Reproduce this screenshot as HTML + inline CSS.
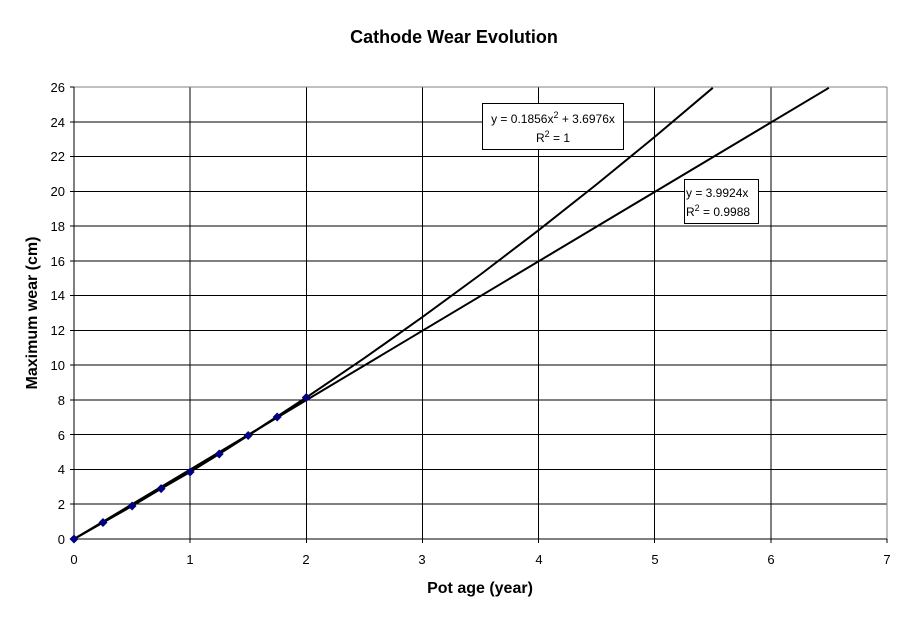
<!DOCTYPE html>
<html><head><meta charset="utf-8"><style>
body{margin:0;background:#fff;}
svg text{font-family:"Liberation Sans",Arial,sans-serif;}
</style></head><body>
<svg width="908" height="618" xmlns="http://www.w3.org/2000/svg">
<rect width="908" height="618" fill="#fff"/>
<text x="454" y="43" text-anchor="middle" font-size="18" font-weight="bold">Cathode Wear Evolution</text>
<g stroke="#000" stroke-width="1" shape-rendering="crispEdges">
<line x1="74" y1="504.2" x2="887" y2="504.2"/><line x1="74" y1="469.5" x2="887" y2="469.5"/>
<line x1="74" y1="434.7" x2="887" y2="434.7"/><line x1="74" y1="399.9" x2="887" y2="399.9"/>
<line x1="74" y1="365.2" x2="887" y2="365.2"/><line x1="74" y1="330.4" x2="887" y2="330.4"/>
<line x1="74" y1="295.6" x2="887" y2="295.6"/><line x1="74" y1="260.8" x2="887" y2="260.8"/>
<line x1="74" y1="226.1" x2="887" y2="226.1"/><line x1="74" y1="191.3" x2="887" y2="191.3"/>
<line x1="74" y1="156.5" x2="887" y2="156.5"/><line x1="74" y1="121.8" x2="887" y2="121.8"/>
<line x1="190.1" y1="87" x2="190.1" y2="539"/><line x1="306.3" y1="87" x2="306.3" y2="539"/>
<line x1="422.4" y1="87" x2="422.4" y2="539"/><line x1="538.6" y1="87" x2="538.6" y2="539"/>
<line x1="654.7" y1="87" x2="654.7" y2="539"/><line x1="770.9" y1="87" x2="770.9" y2="539"/>
</g>
<g stroke="#808080" shape-rendering="crispEdges"><line x1="74" y1="87" x2="887" y2="87"/><line x1="887" y1="87" x2="887" y2="539"/></g>
<g stroke="#000" shape-rendering="crispEdges">
<line x1="74" y1="87" x2="74" y2="543"/><line x1="70" y1="539" x2="887" y2="539"/>
<line x1="70" y1="87" x2="74" y2="87"/><line x1="70" y1="121.8" x2="74" y2="121.8"/><line x1="70" y1="156.5" x2="74" y2="156.5"/><line x1="70" y1="191.3" x2="74" y2="191.3"/><line x1="70" y1="226.1" x2="74" y2="226.1"/><line x1="70" y1="260.8" x2="74" y2="260.8"/><line x1="70" y1="295.6" x2="74" y2="295.6"/><line x1="70" y1="330.4" x2="74" y2="330.4"/><line x1="70" y1="365.2" x2="74" y2="365.2"/><line x1="70" y1="399.9" x2="74" y2="399.9"/><line x1="70" y1="434.7" x2="74" y2="434.7"/><line x1="70" y1="469.5" x2="74" y2="469.5"/><line x1="70" y1="504.2" x2="74" y2="504.2"/>
<line x1="190.1" y1="539" x2="190.1" y2="543"/><line x1="306.3" y1="539" x2="306.3" y2="543"/><line x1="422.4" y1="539" x2="422.4" y2="543"/><line x1="538.6" y1="539" x2="538.6" y2="543"/><line x1="654.7" y1="539" x2="654.7" y2="543"/><line x1="770.9" y1="539" x2="770.9" y2="543"/><line x1="887" y1="539" x2="887" y2="543"/>
</g>
<g font-size="13" text-anchor="end">
<text x="65" y="544">0</text><text x="65" y="509">2</text><text x="65" y="474">4</text><text x="65" y="440">6</text><text x="65" y="405">8</text><text x="65" y="370">10</text><text x="65" y="335">12</text><text x="65" y="300">14</text><text x="65" y="266">16</text><text x="65" y="231">18</text><text x="65" y="196">20</text><text x="65" y="161">22</text><text x="65" y="127">24</text><text x="65" y="92">26</text>
</g>
<g font-size="13" text-anchor="middle">
<text x="74" y="564">0</text><text x="190" y="564">1</text><text x="306" y="564">2</text><text x="422" y="564">3</text><text x="539" y="564">4</text><text x="655" y="564">5</text><text x="771" y="564">6</text><text x="887" y="564">7</text>
</g>
<text x="480" y="593" text-anchor="middle" font-size="16" font-weight="bold">Pot age (year)</text>
<text transform="translate(37,313) rotate(-90)" text-anchor="middle" font-size="16" font-weight="bold">Maximum wear (cm)</text>
<polyline fill="none" stroke="#000" stroke-width="2" points="74,539 132.1,505.8 190.1,471.5 248.2,435.3 306.3,397.5 364.4,358.1 422.4,317.1 480.5,274.5 538.6,230.2 596.6,184.4 654.7,136.9 712.8,87.8"/>
<line x1="74" y1="539" x2="828.9" y2="87.8" stroke="#000" stroke-width="2"/>
<polyline fill="none" stroke="#000" stroke-width="2" points="74,539 103,522.5 132.1,506 161.1,488.6 190.1,472 219.2,454 248.2,435.5 277.2,417 306.3,397.5"/>
<g fill="#000080">
<path d="M74,534.5 l4.5,4.5 l-4.5,4.5 l-4.5,-4.5z"/><path d="M103,518 l4.5,4.5 l-4.5,4.5 l-4.5,-4.5z"/><path d="M132.1,501.5 l4.5,4.5 l-4.5,4.5 l-4.5,-4.5z"/><path d="M161.1,484.1 l4.5,4.5 l-4.5,4.5 l-4.5,-4.5z"/><path d="M190.1,467.5 l4.5,4.5 l-4.5,4.5 l-4.5,-4.5z"/><path d="M219.2,449.5 l4.5,4.5 l-4.5,4.5 l-4.5,-4.5z"/><path d="M248.2,431 l4.5,4.5 l-4.5,4.5 l-4.5,-4.5z"/><path d="M277.2,412.5 l4.5,4.5 l-4.5,4.5 l-4.5,-4.5z"/><path d="M306.3,393 l4.5,4.5 l-4.5,4.5 l-4.5,-4.5z"/>
</g>
<rect x="482.5" y="103.5" width="141" height="46" fill="#fff" stroke="#000"/>
<text x="553" y="123" text-anchor="middle" font-size="12">y = 0.1856x<tspan font-size="9" dy="-5">2</tspan><tspan dy="5"> + 3.6976x</tspan></text>
<text x="553" y="142" text-anchor="middle" font-size="12">R<tspan font-size="9" dy="-5">2</tspan><tspan dy="5"> = 1</tspan></text>
<rect x="684.5" y="179.5" width="74" height="44" fill="#fff" stroke="#000"/>
<text x="686" y="197" font-size="12">y = 3.9924x</text>
<text x="686" y="216" font-size="12">R<tspan font-size="9" dy="-5">2</tspan><tspan dy="5"> = 0.9988</tspan></text>
</svg>
</body></html>
